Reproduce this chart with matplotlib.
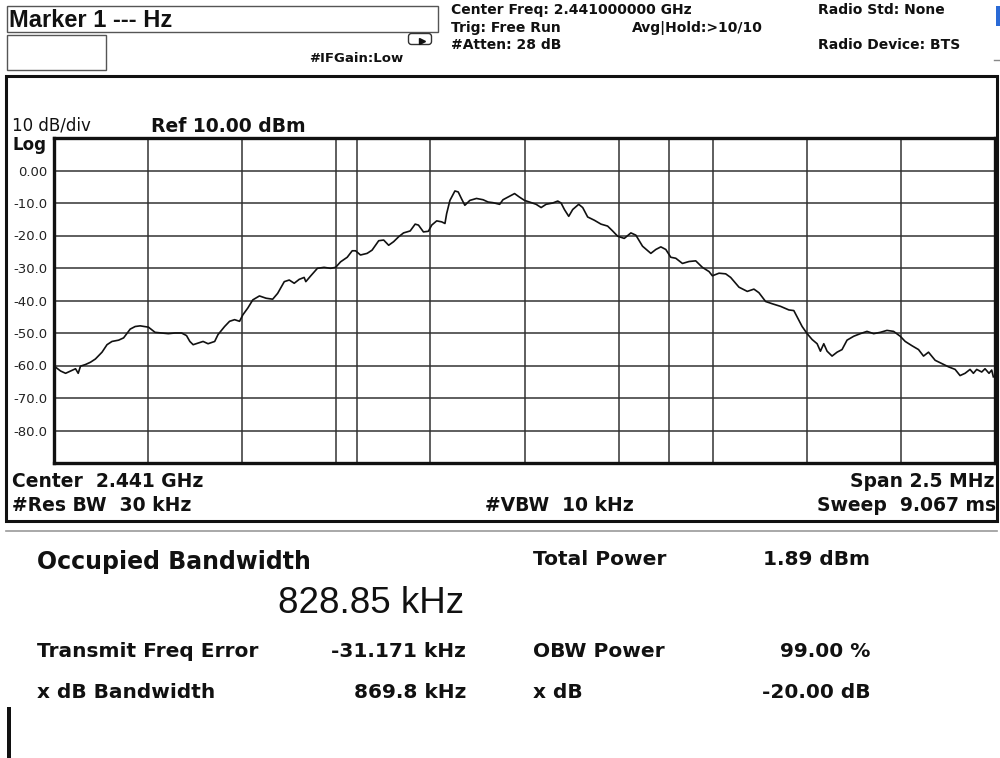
import numpy as np
import matplotlib.pyplot as plt
from matplotlib.patches import Rectangle, FancyBboxPatch

# 트레이스 (중심 주파수 기준 오프셋 MHz, 레벨 dBm) - 화면에서 읽은 값
freq_mhz = [-1.2438, -1.2324, -1.2192, -1.2060, -1.1928, -1.1857, -1.1796, -1.1664,
            -1.1532, -1.1400, -1.1224, -1.1092, -1.0960, -1.0783, -1.0651, -1.0475,
            -1.0343, -1.0211, -0.9991, -0.9815, -0.9639, -0.9463, -0.9287, -0.9111,
            -0.8979, -0.8891, -0.8803, -0.8671, -0.8539, -0.8407, -0.8231, -0.8143,
            -0.7967, -0.7835, -0.7702, -0.7570, -0.7482, -0.7350, -0.7218, -0.7042,
            -0.6866, -0.6690, -0.6558, -0.6382, -0.6250, -0.6118, -0.5986, -0.5854,
            -0.5810, -0.5678, -0.5502, -0.5326, -0.5150, -0.5018, -0.4886, -0.4710,
            -0.4577, -0.4489, -0.4357, -0.4181, -0.4049, -0.3873, -0.3741, -0.3609,
            -0.3477, -0.3345, -0.3213, -0.3037, -0.2905, -0.2817, -0.2685, -0.2553,
            -0.2465, -0.2333, -0.2201, -0.2113, -0.2069, -0.1981, -0.1849, -0.1761,
            -0.1673, -0.1585, -0.1452, -0.1276, -0.1100, -0.0968, -0.0836, -0.0660,
            -0.0572, -0.0440, -0.0264, -0.0132, 0.0000, 0.0133, 0.0309, 0.0442,
            0.0574, 0.0751, 0.0883, 0.0972, 0.1060, 0.1175, 0.1281, 0.1440,
            0.1546, 0.1678, 0.1855, 0.2032, 0.2208, 0.2341, 0.2473, 0.2650,
            0.2827, 0.2959, 0.3136, 0.3357, 0.3489, 0.3622, 0.3754, 0.3887,
            0.4019, 0.4196, 0.4373, 0.4549, 0.4726, 0.4903, 0.4991, 0.5168,
            0.5345, 0.5477, 0.5698, 0.5919, 0.6095, 0.6228, 0.6405, 0.6581,
            0.6802, 0.7023, 0.7155, 0.7244, 0.7376, 0.7509, 0.7641, 0.7774,
            0.7862, 0.7951, 0.8039, 0.8171, 0.8304, 0.8436, 0.8569, 0.8746,
            0.8922, 0.9099, 0.9276, 0.9452, 0.9629, 0.9806, 0.9982, 1.0115,
            1.0292, 1.0468, 1.0601, 1.0733, 1.0910, 1.1087, 1.1263, 1.1440,
            1.1572, 1.1705, 1.1837, 1.1926, 1.2014, 1.2147, 1.2235, 1.2341,
            1.2412, 1.2456]
level_dbm = [-60.7, -61.7, -62.4, -61.7, -61.0, -62.4, -60.2, -59.7,
             -59.0, -58.0, -55.9, -53.6, -52.6, -52.2, -51.5, -48.8,
             -48.0, -47.8, -48.2, -49.8, -50.0, -50.2, -50.0, -50.0,
             -50.8, -52.6, -53.6, -53.1, -52.6, -53.3, -52.6, -50.5,
             -48.0, -46.4, -45.9, -46.4, -44.4, -42.3, -39.8, -38.6,
             -39.3, -39.6, -37.8, -34.2, -33.7, -34.7, -33.5, -32.9,
             -34.2, -32.4, -30.1, -29.8, -30.1, -29.8, -28.1, -26.7,
             -24.7, -24.7, -26.0, -25.5, -24.5, -21.6, -21.4, -23.0,
             -21.9, -20.4, -19.2, -18.6, -16.5, -16.8, -18.9, -18.7,
             -16.8, -15.5, -15.8, -16.3, -13.3, -9.2, -6.3, -6.6,
             -8.7, -10.7, -9.2, -8.6, -9.0, -9.7, -9.9, -10.4,
             -9.0, -8.2, -7.1, -8.2, -9.2, -9.7, -10.4, -11.4,
             -10.4, -10.0, -9.4, -10.0, -12.0, -14.1, -12.0, -10.4,
             -11.4, -14.3, -15.3, -16.5, -17.1, -18.6, -20.2, -20.9,
             -19.2, -19.9, -23.3, -25.5, -24.3, -23.5, -24.3, -26.7,
             -27.0, -28.6, -28.0, -27.8, -29.8, -31.1, -32.4, -31.6,
             -31.8, -32.9, -35.9, -37.2, -36.5, -37.6, -40.3, -41.0,
             -41.8, -42.9, -43.1, -45.1, -48.0, -50.2, -52.0, -53.3,
             -55.6, -53.3, -55.6, -57.1, -55.9, -55.1, -52.2, -51.0,
             -50.2, -49.5, -50.2, -49.8, -49.2, -49.5, -51.0, -52.6,
             -53.9, -55.1, -57.1, -55.9, -58.4, -59.4, -60.4, -61.2,
             -63.1, -62.4, -61.2, -62.4, -61.2, -62.0, -61.0, -62.4,
             -61.4, -63.5]

span_mhz = 2.5
ref_dbm = 10.0
db_per_div = 10
obw_khz = 828.85
freq_err_khz = -31.171
ytick_vals = [0, -10, -20, -30, -40, -50, -60, -70, -80]
ytick_labels = ["0.00", "-10.0", "-20.0", "-30.0", "-40.0", "-50.0", "-60.0", "-70.0", "-80.0"]

# 측정 결과 표
left_names = ["Transmit Freq Error", "x dB Bandwidth"]
left_values = ["-31.171 kHz", "869.8 kHz"]
right_names = ["OBW Power", "x dB"]
right_values = ["99.00 %", "-20.00 dB"]

W, H = 1000, 758
fig = plt.figure(figsize=(10, 7.58), dpi=100)

# 픽셀 좌표로 그리는 바탕 축
bg = fig.add_axes([0, 0, 1, 1])
bg.set_xlim(0, W)
bg.set_ylim(H, 0)
bg.axis("off")

BOLD = dict(family="DejaVu Sans", weight="bold", color="#111111")
REG = dict(family="DejaVu Sans", color="#111111")


def txt(x, y, s, size, ha="left", **kw):
    bg.text(x, y, s, fontsize=size, ha=ha, va="baseline", **kw)


# 상단 헤더
bg.add_patch(Rectangle((7, 6), 431, 26, fill=False, ec="#555555", lw=1.0))
bg.add_patch(Rectangle((7, 35), 99, 35, fill=False, ec="#555555", lw=1.0))
bg.add_patch(FancyBboxPatch((410, 35), 20, 8, boxstyle="round,pad=1.5,rounding_size=3",
                            fill=False, ec="#333333", lw=1.0))
bg.plot([422], [41], marker=">", color="#111111", ms=4)
txt(9, 27, "Marker 1 --- Hz", 17, family="Liberation Sans", weight="bold", color="#111111")
txt(309, 62, "#IFGain:Low", 9.5, **BOLD)
txt(451, 14, "Center Freq: 2.441000000 GHz", 10, **BOLD)
txt(451, 32, "Trig: Free Run", 10, **BOLD)
txt(632, 32, "Avg|Hold:>10/10", 10, **BOLD)
txt(451, 49, "#Atten: 28 dB", 10, **BOLD)
txt(818, 14, "Radio Std: None", 10, **BOLD)
txt(818, 49, "Radio Device: BTS", 10, **BOLD)
bg.add_patch(Rectangle((996, 6), 4, 20, color="#2a6ad6", lw=0))
bg.plot([994, 1000], [60, 60], color="#888888", lw=1)

# 화면 패널 테두리
bg.add_patch(Rectangle((6, 76), 991, 445, fill=False, ec="#111111", lw=2.2))
bg.plot([6, 997], [531, 531], color="#999999", lw=1.2)
bg.add_patch(Rectangle((7, 707), 3.5, 51, color="#111111", lw=0))

txt(12, 130, "10 dB/div", 12, **REG)
txt(151, 132, "Ref 10.00 dBm", 13.5, **BOLD)
txt(12, 150, "Log", 12, **BOLD)

txt(12, 487, "Center  2.441 GHz", 13.5, **BOLD)
txt(12, 511, "#Res BW  30 kHz", 13.5, **BOLD)
txt(485, 511, "#VBW  10 kHz", 13.5, **BOLD)
txt(994, 487, "Span 2.5 MHz", 13.5, ha="right", **BOLD)
txt(996, 511, "Sweep  9.067 ms", 13.5, ha="right", **BOLD)

# 하단 측정 결과
txt(37, 569, "Occupied Bandwidth", 17, **BOLD)
txt(464, 613, "828.85 kHz", 26.5, ha="right", family="Liberation Sans", color="#111111")
txt(533, 565, "Total Power", 14.5, **BOLD)
txt(870, 565, "1.89 dBm", 14.5, ha="right", **BOLD)
for i, (n, v) in enumerate(zip(left_names, left_values)):
    txt(37, 657 + 41 * i, n, 14.5, **BOLD)
    txt(466, 657 + 41 * i, v, 14.5, ha="right", **BOLD)
for i, (n, v) in enumerate(zip(right_names, right_values)):
    txt(533, 657 + 41 * i, n, 14.5, **BOLD)
    txt(870, 657 + 41 * i, v, 14.5, ha="right", **BOLD)

# 스펙트럼 그래프
ax = fig.add_axes([54 / W, 1 - 463 / H, (995 - 54) / W, (463 - 138) / H])
ax.plot(freq_mhz, level_dbm, color="#111111", lw=1.2, zorder=3)
ax.set_xlim(-span_mhz / 2, span_mhz / 2)
ax.set_ylim(ref_dbm - 10 * db_per_div, ref_dbm)
ax.set_xticks(np.linspace(-span_mhz / 2, span_mhz / 2, 11))
ax.set_yticks(ytick_vals)
ax.set_yticklabels(ytick_labels, fontsize=9.5, color="#222222")
ax.tick_params(length=0, labelbottom=False, pad=5)
ax.grid(color="#333333", lw=1.1)
for s in ax.spines.values():
    s.set_linewidth(2.4)
    s.set_color("#111111")

# OBW 경계선
for edge in [freq_err_khz - obw_khz / 2, freq_err_khz + obw_khz / 2]:
    ax.axvline(edge / 1000, color="#333333", lw=1.1)

fig.savefig("out.png", dpi=100)
